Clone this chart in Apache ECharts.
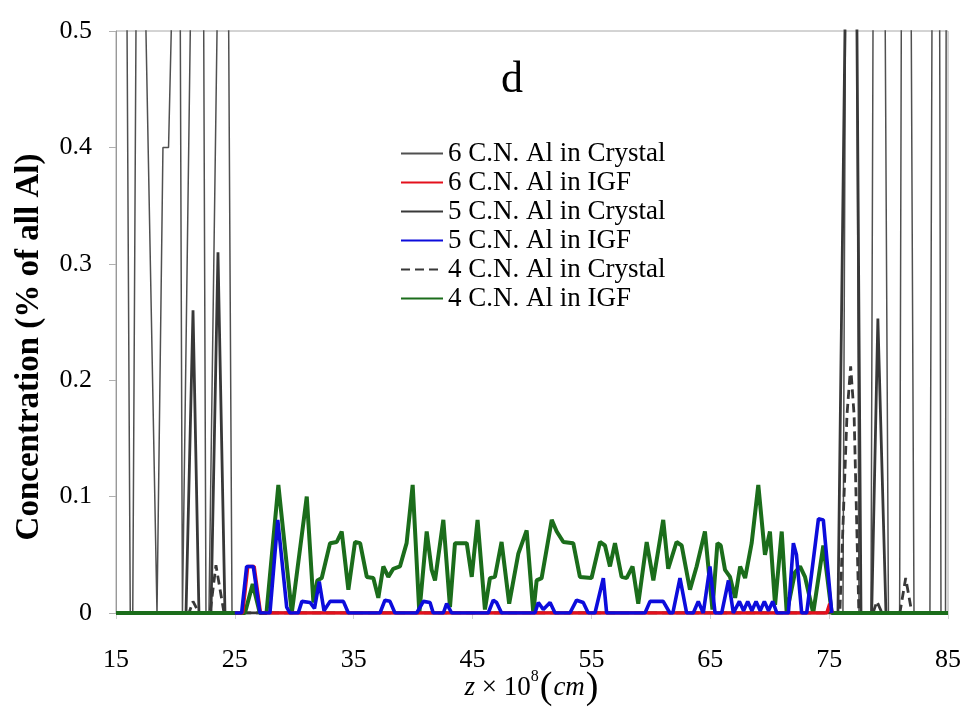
<!DOCTYPE html>
<html><head><meta charset="utf-8">
<script src="https://cdn.jsdelivr.net/npm/echarts@6/dist/echarts.min.js"></script>
<style>html,body{margin:0;padding:0;background:#fff}#c{width:965px;height:718px}</style>
</head><body><div id="c"></div>
<script>
const xTickValues = [15, 25, 35, 45, 55, 65, 75, 85];
const yTickValues = [0, 0.1, 0.2, 0.3, 0.4, 0.5];
const seriesNames = ['6 C.N. Al in Crystal', '6 C.N. Al in IGF', '5 C.N. Al in Crystal', '5 C.N. Al in IGF', '4 C.N. Al in Crystal', '4 C.N. Al in IGF'];
const panelLabel = 'd';
const yTitle = 'Concentration (% of all Al)';

// 6 C.N. Al in Crystal (values above 0.5 run off the top of the plot)
const crystal6 = [[15,2.0],[15.93,0.5],[16.2,0],[16.41,0],[16.68,0.5],[17.1,2.5],[17.52,0.5],[18.45,0],[18.59,0],[18.95,0.4],[19.42,0.4],[19.65,0.5],[20.0,2.2],[20.41,0.5],[20.59,0],[20.72,0],[21.25,0.5],[21.8,3.0],[22.38,0.5],[22.57,0],[22.82,0],[23.5,0.5],[24.0,2.6],[24.48,0.5],[24.76,0],
  [76.16,0],[76.37,0.5],[76.85,2.4],[77.34,0.5],[77.51,0],[78.52,0],[78.69,0.5],[79.2,2.8],[79.72,0.5],[79.99,0],[80.93,0],[81.07,0.5],[81.5,2.5],[81.91,0.5],[82.14,0],[83.48,0],[83.65,0.5],[84.0,2.2],[84.3,0.5],[84.41,0],[84.79,0],[85,2.0]];
// 6 C.N. Al in IGF
const igf6 = [[25.0,0],[25.65,0],[26.08,0.04],[26.62,0.04],[27.15,0],[74.8,0],[75.05,0.008],[75.25,0]];
// 5 C.N. Al in Crystal
const crystal5 = [[15,0],[20.89,0],[21.48,0.26],[21.98,0],[22.99,0],[23.58,0.31],[24.17,0],[75.74,0],[76.33,0.5],[76.8,1.6],[77.34,0.5],[77.68,0],[78.58,0],[79.1,0.253],[79.78,0],[85,0]];
// 5 C.N. Al in IGF
const igf5 = [[25.0,0],[25.57,0],[25.99,0.04],[26.55,0.04],[27.11,0],[27.95,0],[28.61,0.08],[28.73,0.079],[29.36,0.005],[29.63,0],[30.33,0],[30.64,0.01],[31.33,0.009],[31.7,0.004],[32.1,0.027],[32.5,0.002],[33.01,0.01],[34.13,0.01],[34.55,0],
  [37.21,0],[37.63,0.011],[38.05,0.01],[38.47,0],[40.3,0],[40.86,0.01],[41.42,0.009],[41.69,0],[42.54,0],[42.82,0.008],[43.24,0],[46.32,0],[46.74,0.011],[47.02,0.009],[47.44,0],
  [50.25,0],[50.53,0.009],[50.95,0.003],[51.52,0.009],[51.94,0],[53.19,0],[53.75,0.011],[54.31,0.009],[54.73,0],[55.3,0],[56.0,0.03],[56.28,0],[59.51,0],[59.93,0.01],[61.04,0.01],[61.6,0],[61.85,0],[62.45,0.03],[63.01,0],
  [63.57,0],[63.99,0.01],[64.41,0],[64.97,0.04],[65.4,0],[65.96,0],[66.53,0.028],[66.94,0],[67.1,0],[67.45,0.01],[67.8,0.002],[68.15,0.01],[68.5,0.002],[68.85,0.01],[69.2,0.002],[69.55,0.01],[69.9,0.002],[70.25,0.01],[70.6,0],
  [71.57,0],[71.99,0.06],[72.25,0.05],[72.69,0],[73.11,0],[74.1,0.081],[74.51,0.08],[75.22,0],[75.25,0]];
// 4 C.N. Al in Crystal
const crystal4 = [[15,0],[21.14,0],[21.48,0.01],[21.98,0],[22.91,0],[23.41,0.041],[24.09,0],[75.9,0],[76.5,0.17],[76.81,0.212],[77.1,0.17],[77.5,0],[78.69,0],[79.02,0.01],[79.45,0],[80.95,0],[81.44,0.03],[81.96,0],[85,0]];
// 4 C.N. Al in IGF
const igf4 = [[15,0],[25.85,0],[26.5,0.025],[27.1,0],[27.66,0],[28.66,0.11],[29.79,0],[31.05,0.1],[31.61,0.009],[31.94,0.028],[32.31,0.03],[33.01,0.06],[33.57,0.061],[33.99,0.07],[34.55,0.02],[35.11,0.061],[35.54,0.06],[36.1,0.031],[36.65,0.03],[37.07,0.013],[37.49,0.04],[37.91,0.031],[38.33,0.038],[38.89,0.04],[39.45,0.06],[39.96,0.11],[40.52,0],
  [41.14,0.07],[41.56,0.037],[41.84,0.028],[42.54,0.08],[43.1,0.005],[43.52,0.06],[44.51,0.06],[44.93,0.031],[45.42,0.08],[46.04,0.003],[46.46,0.03],[46.88,0.031],[47.44,0.061],[48.08,0.008],[48.85,0.051],[49.55,0.071],[50.11,0],[50.39,0.028],[50.81,0.03],
  [51.66,0.08],[52.08,0.07],[52.64,0.061],[53.47,0.06],[54.03,0.031],[55.01,0.03],[55.72,0.061],[56.14,0.058],[56.56,0.04],[56.98,0.06],[57.54,0.031],[57.96,0.03],[58.46,0.04],[58.94,0.008],[59.65,0.061],[60.21,0.028],[61.04,0.08],[61.46,0.038],[62.16,0.061],[62.59,0.058],
  [63.29,0.02],[63.85,0.04],[64.55,0.07],[65.18,0.003],[65.6,0.06],[65.88,0.058],[66.24,0.037],[66.66,0.031],[67.09,0.013],[67.51,0.04],[67.93,0.03],[68.48,0.06],[69.04,0.11],[69.6,0.05],[70.02,0.07],[70.45,0.007],[71.01,0.07],[71.43,0],[72.13,0.035],[72.55,0.04],[72.97,0.031],[73.66,0],[74.51,0.058],[75.22,0],[85,0]];

const serif = '"Liberation Serif","Times New Roman",serif';
function mk(name, data, color, width, type) {
  return { name, type: 'line', data, symbol: 'none', showSymbol: false, clip: true, smooth: false,
    lineStyle: { color, width, type: type || 'solid' }, itemStyle: { color }, emphasis: { disabled: true } };
}
const chart = echarts.init(document.getElementById('c'), null, { renderer: 'canvas' });
chart.setOption({
  animation: false,
  backgroundColor: '#fff',
  grid: { left: 116, right: 17, top: 31, bottom: 105, show: true, borderColor: '#a8a8a8', borderWidth: 1, containLabel: false, outerBoundsMode: 'none' },
  title: { text: panelLabel, left: 496, top: 53, textStyle: { fontFamily: serif, fontSize: 44, fontWeight: 'normal', color: '#000' } },
  graphic: [{
    type: 'text', x: 29, y: 347, rotation: Math.PI / 2,
    style: { text: yTitle, font: 'bold 33px "Liberation Serif", serif', fill: '#000', align: 'center', verticalAlign: 'middle' }
  }],
  legend: {
    orient: 'vertical', left: 400, top: 139, padding: 0, itemGap: 0, itemWidth: 42, itemHeight: 14,
    data: seriesNames, itemStyle: { opacity: 0 },
    textStyle: { fontFamily: serif, fontSize: 27, color: '#000', lineHeight: 29 }
  },
  xAxis: {
    type: 'value', min: 15, max: 85,
    axisLine: { show: true, lineStyle: { color: '#999', width: 1 } },
    axisTick: { show: true, customValues: xTickValues, length: 6, lineStyle: { color: '#d0d0d0' } },
    axisLabel: { customValues: xTickValues, margin: 34, fontFamily: serif, fontSize: 26, color: '#000' },
    splitLine: { show: false },
    name: '{i|z}{n| × 10}{s|8}{p|(}{i|cm}{p|)}', nameLocation: 'middle', nameGap: 56, nameMoveOverlap: false,
    nameTextStyle: { rich: {
      i: { fontFamily: serif, fontStyle: 'italic', fontSize: 27, color: '#000' },
      n: { fontFamily: serif, fontSize: 27, color: '#000' },
      s: { fontFamily: serif, fontSize: 16, color: '#000', verticalAlign: 'top' },
      p: { fontFamily: serif, fontSize: 38, color: '#000', padding: [0, 1, 0, 1] }
    } }
  },
  yAxis: {
    type: 'value', min: 0, max: 0.5, interval: 0.1,
    axisLine: { show: true, lineStyle: { color: '#999', width: 1 } },
    axisTick: { show: true, length: 7, lineStyle: { color: '#b0b0b0' } },
    axisLabel: { margin: 24, fontFamily: serif, fontSize: 26, color: '#000',
      formatter: v => { const t = yTickValues.find(y => Math.abs(y - v) < 1e-9); return t === 0 ? '0' : t.toFixed(1); } },
    splitLine: { show: false }
  },
  series: [
    mk(seriesNames[0], crystal6, '#505050', 1.5),
    mk(seriesNames[2], crystal5, '#383838', 2.8),
    mk(seriesNames[4], crystal4, '#383838', 2.8, [9, 5]),
    mk(seriesNames[5], igf4, '#1b6d1b', 4),
    mk(seriesNames[1], igf6, '#e4101c', 3.6),
    mk(seriesNames[3], igf5, '#0c0cdc', 3.6)
  ]
});
</script></body></html>
